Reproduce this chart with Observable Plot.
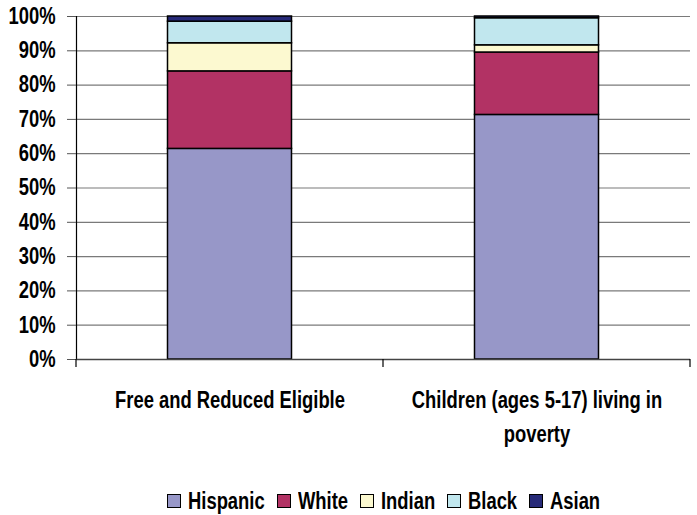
<!DOCTYPE html>
<html>
<head>
<meta charset="utf-8">
<script src="https://cdn.jsdelivr.net/npm/d3@7"></script>
<script src="https://cdn.jsdelivr.net/npm/@observablehq/plot@0.6"></script>
<style>
  html, body { margin: 0; padding: 0; background: #fff; }
  #chart { width: 697px; }
  .legend {
    display: flex; justify-content: center; align-items: center;
    height: 45px; padding-top: 17px; padding-left: 70px; box-sizing: border-box;
    font-family: 'Liberation Sans', Arial, sans-serif;
    font-weight: bold; font-size: 23px; color: #000;
  }
  .legend .item { display: flex; align-items: center; margin: 0 6px; }
  .legend .sw { width: 12px; height: 12px; border: 1px solid #000; margin-right: 7px; flex: none; }
  .legend .lbl { display: inline-block; transform: scaleX(0.8); transform-origin: left center; }
</style>
</head>
<body>
<div id="chart"></div>
<script>
// Population groups, bottom of each stack first
const categories = ["Free and Reduced Eligible", "Children (ages 5-17) living in poverty"];
const categoryLabels = ["Free and Reduced Eligible", "Children (ages 5-17) living in\npoverty"];
const series = ["Hispanic", "White", "Indian", "Black", "Asian"];
const colors = ["#9797c8", "#b23264", "#fcf9d0", "#c1e7ee", "#272a78"];

// Percent of each category
const hispanic = [61.4, 71.3];
const white    = [22.6, 18.2];
const indian   = [8.2, 2.1];
const black    = [6.3, 7.9];
const asian    = [1.5, 0.5];

const yTicks = [0, 10, 20, 30, 40, 50, 60, 70, 80, 90, 100];

const seriesValues = [hispanic, white, indian, black, asian];
const data = series.flatMap((s, i) =>
  categories.map((c, j) => ({category: c, group: s, value: seriesValues[i][j]}))
);

const font = "'Liberation Sans', Arial, sans-serif";
const narrow = 0.8; // condensed look of the labels

// Tick marks at the band boundaries of the category axis
function bandBoundaryTicks(index, scales, values, dimensions) {
  const {marginLeft, marginRight, marginBottom, width, height} = dimensions;
  const x = scales.x;
  let bw = typeof x.bandwidth === "function" ? x.bandwidth() : x.bandwidth;
  if (!(bw > 0)) bw = (width - marginLeft - marginRight) / categories.length;
  const y0 = height - marginBottom;
  const edges = new Set();
  categories.forEach(c => { edges.add(Math.round(x(c))); edges.add(Math.round(x(c) + bw)); });
  const g = d3.create("svg:g");
  for (const e of edges) {
    g.append("line")
      .attr("x1", e).attr("x2", e)
      .attr("y1", y0).attr("y2", y0 + 8)
      .attr("stroke", "#000").attr("stroke-width", 1.2);
  }
  return g.node();
}

const chart = Plot.plot({
  width: 697,
  height: 470,
  marginLeft: 76,
  marginRight: 7,
  marginTop: 16,
  marginBottom: 111,
  style: {fontFamily: font, fontWeight: "bold", fontSize: "23px", color: "#000", background: "#fff"},
  x: {domain: categories, padding: 0, label: null},
  y: {domain: [0, 100], label: null},
  color: {domain: series, range: colors},
  marks: [
    Plot.gridY(yTicks, {stroke: "#7a7a7a", strokeOpacity: 1, strokeWidth: 1.2}),
    Plot.barY(data, Plot.stackY({
      x: "category", y: "value", fill: "group",
      stroke: "#000", strokeWidth: 1.5,
      insetLeft: 91.5, insetRight: 91.5
    })),
    Plot.frame({anchor: "left", stroke: "#000", strokeWidth: 1.2}),
    Plot.ruleY([0], {stroke: "#444", strokeWidth: 1.5}),
    Plot.axisY({
      ticks: yTicks, tickFormat: d => d + "%", tickSize: 9, tickPadding: 12,
      fontSize: 23, stroke: "#555", label: null
    }),
    Plot.axisX({
      tickSize: 0, tickPadding: 24, fontSize: 23, lineHeight: 1.5,
      tickFormat: c => categoryLabels[categories.indexOf(c)], label: null
    }),
    bandBoundaryTicks
  ]
});

// Condense every label horizontally about its own anchor
d3.select(chart).selectAll("text").each(function() {
  const t = this.getAttribute("transform") || "";
  this.setAttribute("transform", (t + ` scale(${narrow},1)`).trim());
});

const root = document.getElementById("chart");
root.appendChild(chart);

// Legend below the plot
const legend = d3.select(root).append("div").attr("class", "legend");
series.forEach((s, i) => {
  const item = legend.append("div").attr("class", "item");
  item.append("div").attr("class", "sw").style("background", colors[i]);
  item.append("span").attr("class", "lbl").text(s);
});
// keep each item's layout width equal to its condensed text width
root.querySelectorAll(".legend .lbl").forEach(el => {
  const w = el.getBoundingClientRect().width;
  el.style.marginRight = (w - w / narrow) + "px";
});
</script>
</body>
</html>
